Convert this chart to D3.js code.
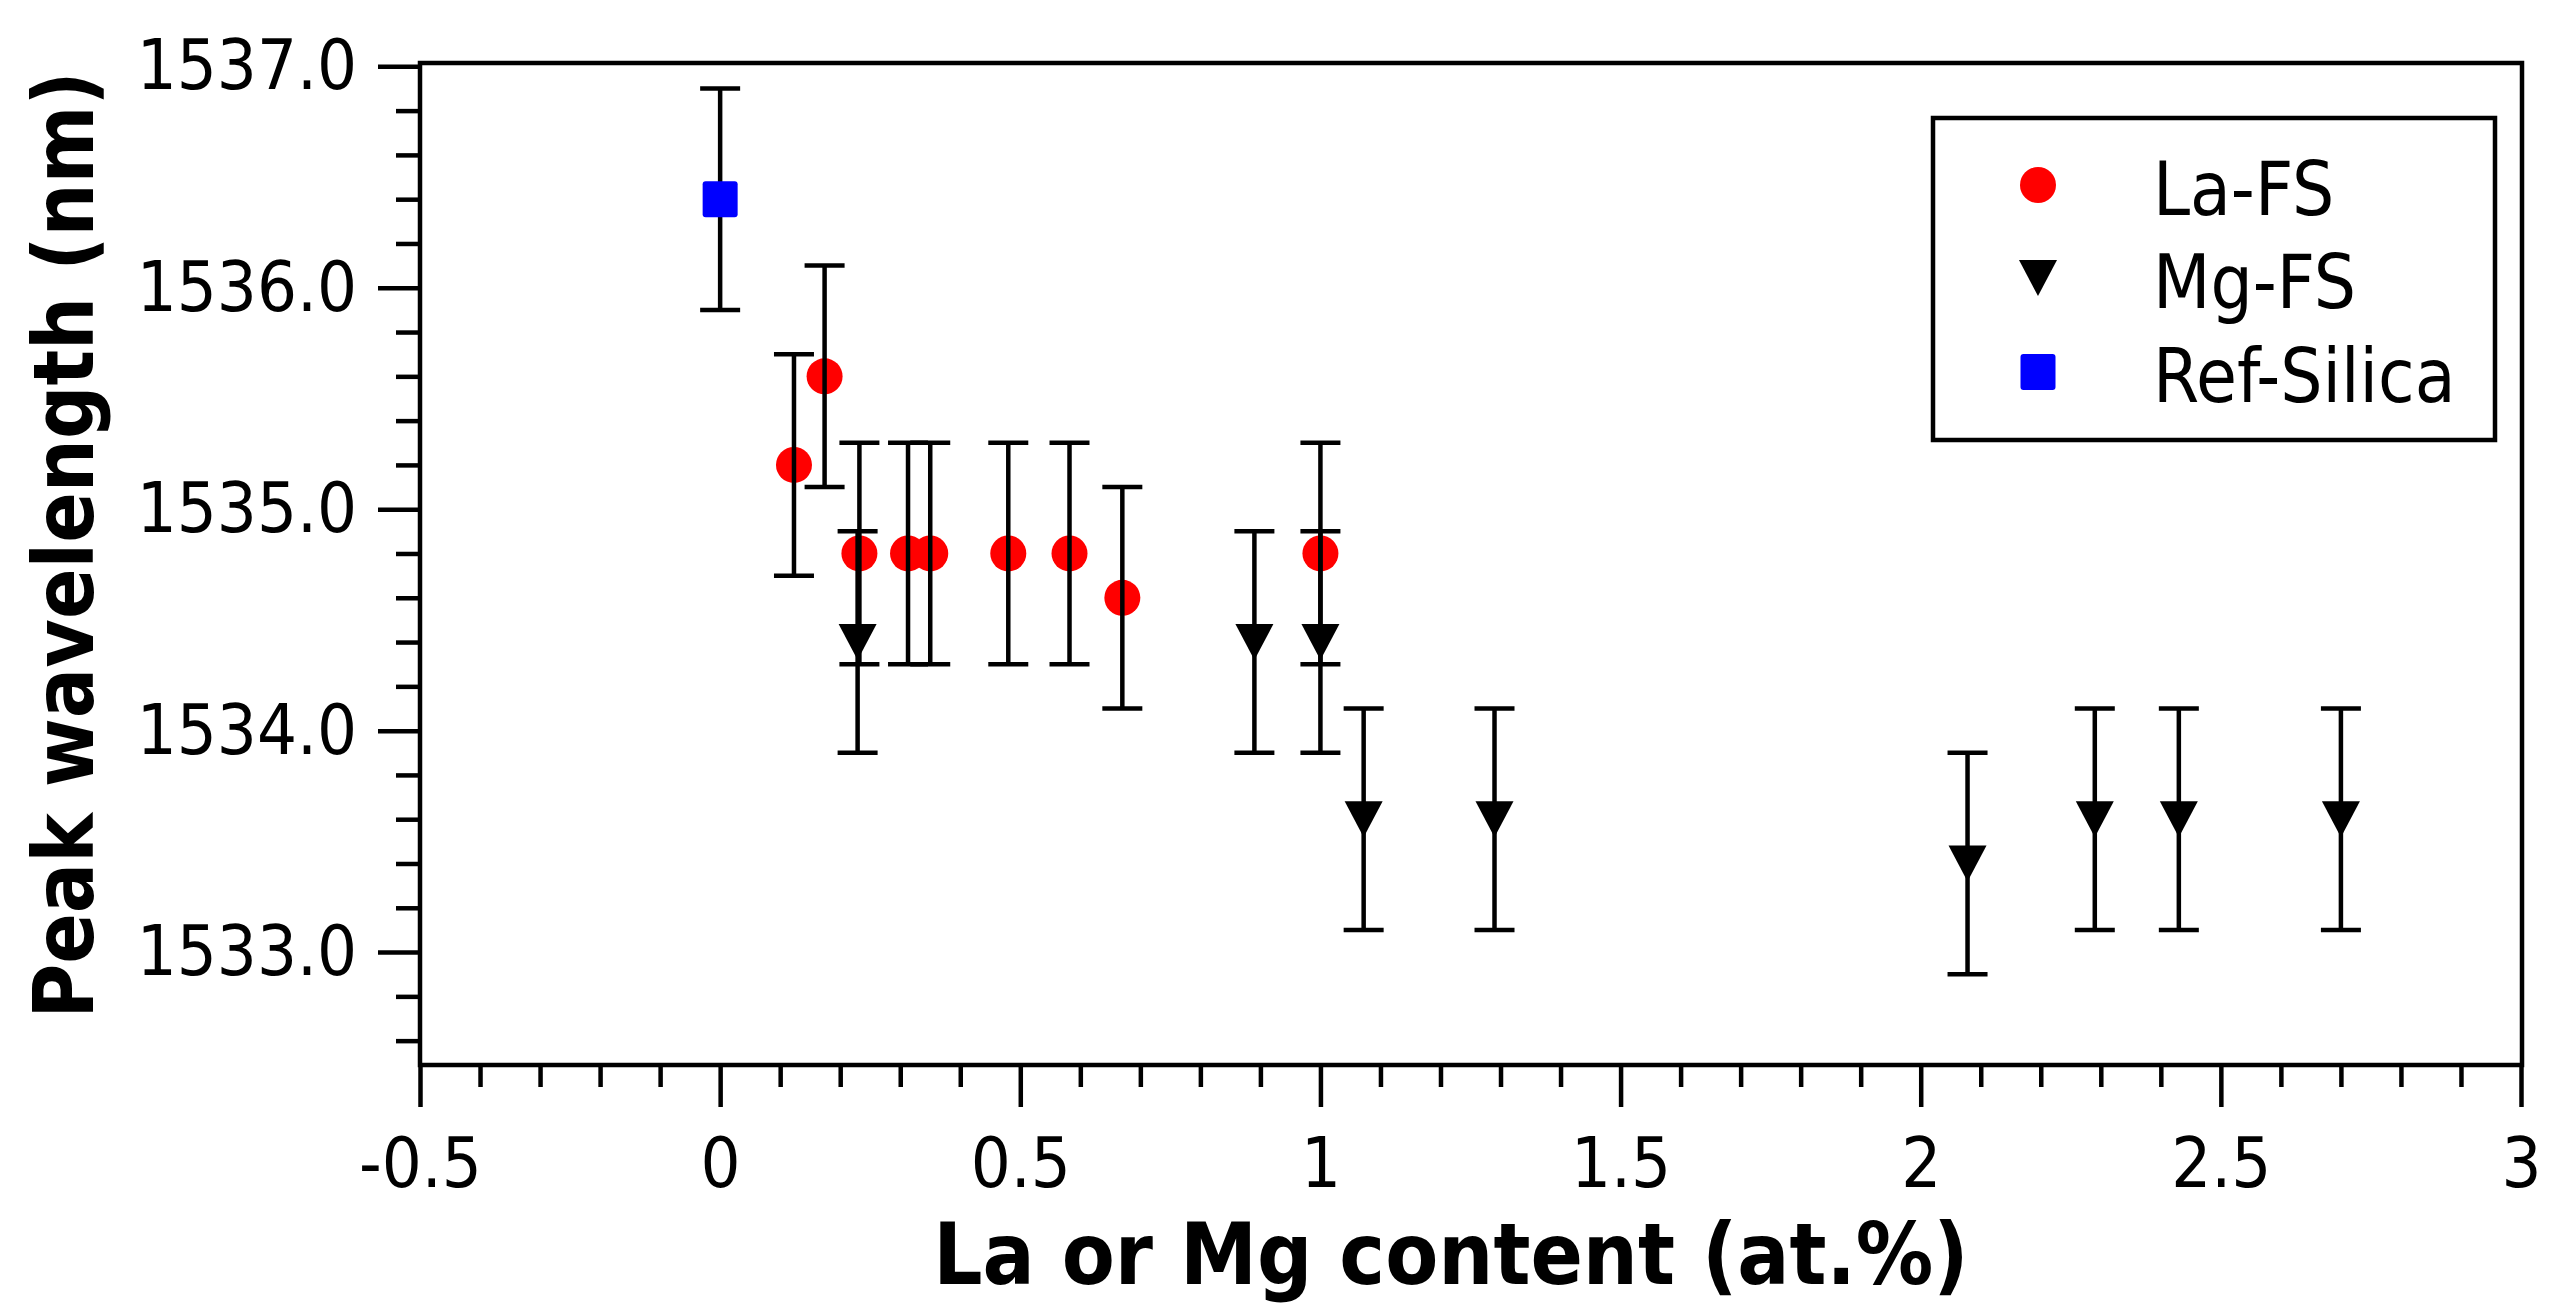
<!DOCTYPE html>
<html>
<head>
<meta charset="utf-8">
<script src="https://cdn.jsdelivr.net/npm/d3@7"></script>
<style>
  html, body { margin: 0; padding: 0; background: #fff; }
  svg { display: block; }
  .t { font-family: "DejaVu Sans Condensed", "DejaVu Sans", sans-serif; font-stretch: condensed; }
</style>
</head>
<body>
<svg id="chart" width="2561" height="1315"></svg>
<script>
// ---- data ----
const laX   = [0.123, 0.174, 0.232, 0.313, 0.350, 0.480, 0.582, 0.670, 1.000];
const laY   = [1535.2, 1535.6, 1534.8, 1534.8, 1534.8, 1534.8, 1534.8, 1534.6, 1534.8];
const laErr = [0.5, 0.5, 0.5, 0.5, 0.5, 0.5, 0.5, 0.5, 0.5];

const mgX   = [0.229, 0.890, 1.000, 1.072, 1.290, 2.078, 2.290, 2.430, 2.700];
const mgY   = [1534.4, 1534.4, 1534.4, 1533.6, 1533.6, 1533.4, 1533.6, 1533.6, 1533.6];
const mgErr = [0.5, 0.5, 0.5, 0.5, 0.5, 0.5, 0.5, 0.5, 0.5];

const refX   = [0.0];
const refY   = [1536.4];
const refErr = [0.5];

const xMajorTicks = [-0.5, 0, 0.5, 1, 1.5, 2, 2.5, 3];
const xTickLabels = ["-0.5", "0", "0.5", "1", "1.5", "2", "2.5", "3"];
const yMajorTicks = [1533, 1534, 1535, 1536, 1537];
const yTickLabels = ["1533.0", "1534.0", "1535.0", "1536.0", "1537.0"];

const seriesNames = ["La-FS", "Mg-FS", "Ref-Silica"];
const xTitle = "La or Mg content (at.%)";
const yTitle = "Peak wavelength (nm)";

// ---- layout ----
const svg = d3.select("#chart");
const L = 420, R = 2522, T = 63, B = 1065;
const SW = 4.5;

const x = d3.scaleLinear().domain([-0.5, 3]).range([L, 2521]);
const y = d3.scaleLinear().domain([1532.49, 1537.015]).range([B, T]);

const xMinor = d3.range(-5, 31).map(i => i / 10).filter(v => !xMajorTicks.some(m => Math.abs(m - v) < 1e-9));
const yMinor = d3.range(15326, 15371, 2).map(i => i / 10).filter(v => !yMajorTicks.some(m => Math.abs(m - v) < 1e-9));

function styleAxis(g) {
  g.select(".domain").remove();
  g.selectAll(".tick line").attr("stroke", "#000").attr("stroke-width", SW);
  g.selectAll(".tick text").attr("class", "t").attr("fill", "#000").attr("font-size", 70);
}

// x axis
svg.append("g").attr("transform", `translate(0,${B})`)
  .call(d3.axisBottom(x).tickValues(xMinor).tickSize(22).tickFormat(""))
  .call(styleAxis);
svg.append("g").attr("transform", `translate(0,${B})`)
  .call(d3.axisBottom(x).tickValues(xMajorTicks).tickSize(42).tickPadding(30)
        .tickFormat((d, i) => xTickLabels[i]))
  .call(styleAxis)
  .selectAll("text").attr("font-family", null);

// y axis
svg.append("g").attr("transform", `translate(${L},0)`)
  .call(d3.axisLeft(y).tickValues(yMinor).tickSize(24).tickFormat(""))
  .call(styleAxis);
svg.append("g").attr("transform", `translate(${L},0)`)
  .call(d3.axisLeft(y).tickValues(yMajorTicks).tickSize(42).tickPadding(21)
        .tickFormat((d, i) => yTickLabels[i]))
  .call(styleAxis);

// frame
svg.append("rect").attr("x", L).attr("y", T).attr("width", R - L).attr("height", B - T)
  .attr("fill", "none").attr("stroke", "#000").attr("stroke-width", SW);

// plotting helpers
const capW = 20;
function errorBars(xs, ys, es) {
  const g = svg.append("g").attr("stroke", "#000").attr("stroke-width", SW).attr("fill", "none");
  xs.forEach((xv, i) => {
    const cx = x(xv), y1 = y(ys[i] + es[i]), y2 = y(ys[i] - es[i]);
    g.append("line").attr("x1", cx).attr("x2", cx).attr("y1", y1).attr("y2", y2);
    g.append("line").attr("x1", cx - capW).attr("x2", cx + capW).attr("y1", y1).attr("y2", y1);
    g.append("line").attr("x1", cx - capW).attr("x2", cx + capW).attr("y1", y2).attr("y2", y2);
  });
}
const triPath = "M-19,-18L19,-18L0,18Z";

// La-FS markers then error bars
svg.append("g").selectAll("circle").data(laX).join("circle")
  .attr("cx", d => x(d)).attr("cy", (d, i) => y(laY[i])).attr("r", 18).attr("fill", "#ff0000");
errorBars(laX, laY, laErr);

// Mg-FS
errorBars(mgX, mgY, mgErr);
svg.append("g").selectAll("path").data(mgX).join("path")
  .attr("d", triPath)
  .attr("transform", (d, i) => `translate(${x(d)},${y(mgY[i])})`).attr("fill", "#000");

// Ref-Silica
errorBars(refX, refY, refErr);
svg.append("g").selectAll("rect").data(refX).join("rect")
  .attr("x", d => x(d) - 17.5).attr("y", (d, i) => y(refY[i]) - 18)
  .attr("width", 35).attr("height", 36).attr("rx", 3).attr("fill", "#0000ff");

// legend
const lg = svg.append("g");
lg.append("rect").attr("x", 1933).attr("y", 118).attr("width", 562).attr("height", 322)
  .attr("fill", "#fff").attr("stroke", "#000").attr("stroke-width", SW);
const symX = 2038, txtX = 2153;
const rowY = [185, 278, 372];
lg.append("circle").attr("cx", symX).attr("cy", rowY[0]).attr("r", 18).attr("fill", "#ff0000");
lg.append("path").attr("d", triPath).attr("transform", `translate(${symX},${rowY[1]})`).attr("fill", "#000");
lg.append("rect").attr("x", symX - 17.5).attr("y", rowY[2] - 18).attr("width", 35).attr("height", 36)
  .attr("rx", 3).attr("fill", "#0000ff");
seriesNames.forEach((n, i) => {
  lg.append("text").attr("class", "t").attr("x", txtX).attr("y", rowY[i] + 30)
    .attr("font-size", 74).attr("fill", "#000").text(n);
});

// axis titles
svg.append("text").attr("class", "t").attr("x", (L + R) / 2 - 20).attr("y", 1284)
  .attr("text-anchor", "middle").attr("font-size", 86).attr("font-weight", "bold")
  .attr("fill", "#000").text(xTitle);
svg.append("text").attr("class", "t")
  .attr("transform", `translate(93,${(T + B) / 2 - 19}) rotate(-90)`)
  .attr("text-anchor", "middle").attr("font-size", 83).attr("font-weight", "bold")
  .attr("fill", "#000").text(yTitle);
</script>
</body>
</html>
